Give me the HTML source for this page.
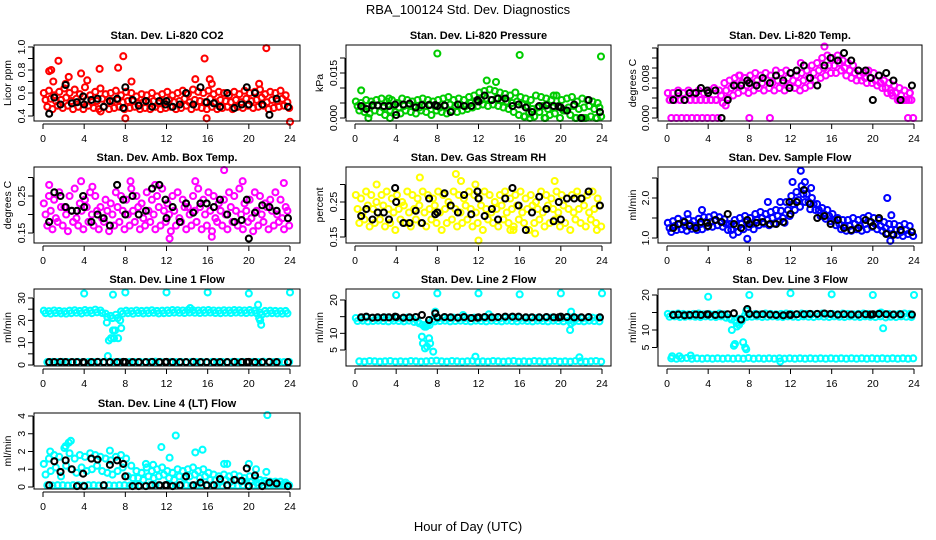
<!DOCTYPE html>
<html><head><meta charset="utf-8"><style>
html,body{margin:0;padding:0;background:#fff;}
svg{display:block;font-family:"Liberation Sans",sans-serif;}
</style></head><body>
<svg id="chart" width="936" height="540" viewBox="0 0 936 540">
<text x="468" y="14" text-anchor="middle" font-size="13">RBA_100124  Std. Dev. Diagnostics</text>
<text x="468" y="531" text-anchor="middle" font-size="13">Hour of Day (UTC)</text>
</svg>
<script>
const HOURS=[0.25,0.75,1.25,1.75,2.25,2.75,3.25,3.75,4.25,4.75,5.25,5.75,6.25,6.75,7.25,7.75,8.25,8.75,9.25,9.75,10.25,10.75,11.25,11.75,12.25,12.75,13.25,13.75,14.25,14.75,15.25,15.75,16.25,16.75,17.25,17.75,18.25,18.75,19.25,19.75,20.25,20.75,21.25,21.75,22.25,22.75,23.25,23.75];
const BLACK_HOURS=[0.6,1.1,1.7,2.2,2.8,3.3,3.9,4.0,4.7,5.3,5.9,6.5,7.2,7.8,8.0,8.7,9.3,10.0,10.6,11.3,11.9,12.0,12.6,13.3,13.9,14.6,15.3,15.9,16.6,17.2,17.9,18.6,19.3,19.8,20.0,20.6,21.3,22.0,22.7,23.8];
const X_TICKS=[0,4,8,12,16,20,24];

// CO2
const co2A=[0.60,0.62,0.58,0.61,0.64,0.60,0.63,0.59,0.65,0.58,0.61,0.64,0.59,0.60,0.62,0.58,0.61,0.60,0.57,0.59,0.58,0.60,0.57,0.59,0.61,0.58,0.60,0.62,0.59,0.63,0.61,0.60,0.62,0.59,0.61,0.60,0.58,0.61,0.59,0.62,0.60,0.61,0.63,0.59,0.61,0.60,0.62,0.58];
const co2B=[0.54,0.55,0.53,0.54,0.56,0.53,0.55,0.52,0.54,0.52,0.53,0.55,0.52,0.53,0.54,0.52,0.53,0.53,0.51,0.52,0.52,0.53,0.51,0.52,0.54,0.52,0.53,0.55,0.52,0.54,0.53,0.52,0.55,0.52,0.54,0.53,0.52,0.54,0.52,0.55,0.53,0.54,0.56,0.52,0.54,0.53,0.55,0.52];
const co2C=[0.48,0.46,0.49,0.47,0.49,0.46,0.48,0.46,0.49,0.47,0.46,0.48,0.46,0.47,0.48,0.46,0.47,0.48,0.46,0.47,0.46,0.48,0.46,0.47,0.48,0.46,0.47,0.49,0.46,0.48,0.47,0.46,0.48,0.46,0.47,0.48,0.46,0.48,0.47,0.49,0.47,0.48,0.49,0.46,0.47,0.48,0.49,0.47];
const co2XH=[0.6,0.8,1.5,2.5,3.7,5.5,7.3,7.8,8.0,8.6,14.8,15.7,15.9,16.2,16.4,21.0,21.7,24.0,1.0,4.3,2.2,5.6];
const co2XV=[0.79,0.80,0.88,0.74,0.77,0.81,0.82,0.92,0.38,0.70,0.72,0.90,0.38,0.72,0.68,0.68,0.99,0.35,0.70,0.71,0.68,0.44];
const co2K=[0.42,0.56,0.50,0.67,0.51,0.52,0.57,0.50,0.54,0.55,0.48,0.53,0.55,0.47,0.65,0.54,0.49,0.53,0.48,0.53,0.50,0.53,0.48,0.50,0.60,0.50,0.65,0.52,0.51,0.48,0.60,0.47,0.50,0.65,0.50,0.60,0.50,0.41,0.55,0.48];

// Pressure
const presA=[0.0055,0.005,0.006,0.0055,0.006,0.0065,0.0055,0.006,0.005,0.0065,0.006,0.0055,0.006,0.0065,0.006,0.0055,0.006,0.0065,0.007,0.006,0.0065,0.006,0.007,0.0075,0.0085,0.009,0.0095,0.009,0.0085,0.008,0.0075,0.0085,0.007,0.0065,0.006,0.0075,0.007,0.0065,0.006,0.0075,0.006,0.0065,0.007,0.0055,0.0065,0.006,0.0055,0.005];
const presB=[0.004,0.0035,0.004,0.0045,0.004,0.0035,0.0045,0.004,0.0035,0.004,0.0045,0.004,0.0035,0.004,0.0045,0.004,0.0035,0.004,0.0045,0.004,0.0045,0.004,0.005,0.0055,0.006,0.0065,0.006,0.0065,0.006,0.0055,0.005,0.0055,0.0045,0.004,0.003,0.0035,0.004,0.003,0.0035,0.004,0.0025,0.0035,0.004,0.003,0.0035,0.004,0.003,0.0035];
const presC=[0.0025,0.002,0.0015,0.0025,0.002,0.001,0.0025,0.002,0.0015,0.0025,0.002,0.0015,0.0025,0.002,0.001,0.0025,0.002,0.0015,0.0025,0.002,0.0025,0.003,0.0035,0.004,0.0045,0.004,0.0045,0.004,0.0035,0.003,0.002,0.001,0.0005,0.0015,0.0005,0.002,0,0.001,0.0015,0,0.0025,0.001,0,0,0,0.0005,0,0.0005];
const presXH=[0.6,3.3,8.0,16.0,23.9,12.8,13.7,1.3,3.4,17.0,18.5,21.5,22.2,23.5,19.3,16.5];
const presXV=[0.0092,0.0065,0.0215,0.021,0.0205,0.0125,0.012,0,0,0,0,0,0,0,0.0075,0.0005];
const presK=[0.004,0.003,0.0042,0.0042,0.004,0.004,0.0045,0.001,0.0045,0.0048,0.0035,0.0043,0.0043,0.0043,0.004,0.0042,0.002,0.0045,0.004,0.004,0.006,0.0055,0.0075,0.006,0.0065,0.0065,0.004,0.0045,0.0035,0.002,0.004,0.0042,0.004,0.0038,0.0035,0.0025,0.0045,0,0.006,0.002];

// Li-820 Temp
const tempA=[0.005,0.005,0.0055,0.005,0.0055,0.005,0.0055,0.005,0.0055,0.006,0.0055,0.007,0.0075,0.008,0.0085,0.008,0.0085,0.009,0.0085,0.009,0.0085,0.0095,0.009,0.0095,0.009,0.0085,0.009,0.0095,0.0105,0.011,0.012,0.0125,0.012,0.0125,0.0115,0.011,0.0105,0.0095,0.009,0.0095,0.009,0.0085,0.0075,0.007,0.0065,0.006,0.0055,0.005];
const tempB=[0.0036,0.0036,0.0036,0.0036,0.0036,0.0036,0.0036,0.0036,0.0036,0.0036,0.0045,0.0055,0.006,0.0065,0.007,0.0065,0.007,0.0075,0.007,0.0075,0.007,0.0075,0.007,0.008,0.0075,0.007,0.0075,0.008,0.009,0.0095,0.01,0.0105,0.0105,0.011,0.01,0.0095,0.009,0.0085,0.008,0.008,0.0075,0.007,0.006,0.0055,0.005,0.0045,0.0036,0.0036];
const tempC=[0,0,0,0,0,0,0,0,0,0,0.003,0.004,0.0045,0.005,0.0055,0.005,0.0055,0.006,0.0055,0.006,0.0055,0.006,0.0055,0.0065,0.006,0.0055,0.006,0.0065,0.0075,0.008,0.0085,0.009,0.009,0.0095,0.0085,0.008,0.0075,0.0075,0.007,0.007,0.0065,0.006,0.005,0.0045,0.0036,0.0036,0,0];
const tempXH=[8.0,10.0,15.3,13.0,7.0,5.7,0.3,0.7,1.3,1.7,2.3,2.8,3.3,3.8,4.3,4.8,22.6,23.0,23.5,21.8,22.2,23.6];
const tempXV=[0,0,0.0143,0.011,0.0085,0.0025,0.0036,0.0036,0.0036,0.0036,0.0036,0.0036,0.0036,0.0036,0.0036,0.0036,0.0036,0.0036,0.0036,0.005,0.005,0.005];
const tempK=[0.0036,0.005,0.0036,0.005,0.005,0.006,0.0055,0.005,0.0055,0,0.0036,0.0065,0.0065,0.0075,0.007,0.0065,0.008,0.007,0.0085,0.0075,0.006,0.009,0.0095,0.0105,0.008,0.0065,0.0105,0.012,0.0115,0.013,0.0115,0.0095,0.0095,0.008,0.0036,0.0085,0.009,0.0075,0.0036,0.0065];

// Amb Box Temp
const ambA=[0.23,0.25,0.24,0.26,0.22,0.25,0.27,0.23,0.24,0.26,0.25,0.22,0.24,0.23,0.26,0.25,0.24,0.27,0.25,0.23,0.26,0.24,0.25,0.27,0.23,0.25,0.26,0.24,0.22,0.25,0.27,0.24,0.26,0.25,0.23,0.24,0.26,0.25,0.27,0.23,0.24,0.26,0.25,0.23,0.24,0.26,0.24,0.22];
const ambB=[0.20,0.21,0.19,0.22,0.20,0.21,0.19,0.21,0.22,0.20,0.21,0.19,0.21,0.20,0.22,0.21,0.20,0.21,0.22,0.19,0.21,0.20,0.22,0.21,0.20,0.21,0.19,0.22,0.20,0.21,0.22,0.20,0.21,0.19,0.21,0.20,0.22,0.21,0.20,0.21,0.19,0.21,0.20,0.22,0.21,0.20,0.19,0.21];
const ambC=[0.17,0.16,0.18,0.17,0.155,0.18,0.17,0.16,0.18,0.17,0.16,0.18,0.155,0.17,0.18,0.16,0.17,0.18,0.16,0.17,0.18,0.16,0.17,0.18,0.155,0.17,0.18,0.16,0.17,0.18,0.16,0.17,0.155,0.18,0.17,0.16,0.18,0.17,0.16,0.18,0.155,0.17,0.18,0.16,0.17,0.18,0.16,0.17];
const ambXH=[0.6,3.7,14.8,17.6,19.4,23.4,12.3,16.4,8.5,4.8,10.9];
const ambXV=[0.28,0.29,0.29,0.32,0.29,0.285,0.135,0.14,0.29,0.275,0.28];
const ambK=[0.18,0.26,0.25,0.22,0.21,0.21,0.25,0.22,0.18,0.20,0.19,0.17,0.28,0.24,0.20,0.25,0.20,0.21,0.27,0.28,0.24,0.19,0.22,0.18,0.23,0.205,0.23,0.23,0.22,0.24,0.20,0.18,0.185,0.24,0.135,0.205,0.225,0.22,0.21,0.19];

// Gas Stream RH
const rhA=[0.27,0.26,0.28,0.27,0.25,0.27,0.28,0.26,0.27,0.25,0.28,0.27,0.26,0.28,0.27,0.26,0.28,0.27,0.25,0.28,0.27,0.26,0.28,0.27,0.26,0.28,0.27,0.25,0.27,0.28,0.26,0.27,0.28,0.26,0.27,0.25,0.28,0.27,0.26,0.28,0.27,0.26,0.27,0.28,0.26,0.27,0.28,0.26];
const rhB=[0.23,0.22,0.24,0.23,0.22,0.24,0.23,0.22,0.23,0.24,0.22,0.23,0.24,0.22,0.23,0.24,0.22,0.23,0.24,0.23,0.22,0.24,0.23,0.22,0.24,0.23,0.22,0.23,0.24,0.22,0.23,0.24,0.22,0.23,0.24,0.23,0.22,0.24,0.23,0.22,0.24,0.23,0.22,0.23,0.24,0.22,0.23,0.24];
const rhC=[0.19,0.20,0.18,0.19,0.20,0.18,0.19,0.17,0.20,0.19,0.18,0.20,0.19,0.18,0.20,0.19,0.17,0.19,0.20,0.18,0.19,0.20,0.18,0.19,0.17,0.20,0.19,0.18,0.20,0.19,0.18,0.20,0.19,0.17,0.19,0.20,0.18,0.19,0.20,0.18,0.19,0.17,0.20,0.19,0.18,0.20,0.19,0.18];
const rhXH=[6.3,9.8,10.3,12.0,15.1,15.4,19.4,23.5,11.7,2.1,17.5];
const rhXV=[0.32,0.33,0.31,0.14,0.17,0.17,0.31,0.17,0.30,0.30,0.16];
const rhK=[0.21,0.23,0.20,0.22,0.22,0.20,0.29,0.25,0.19,0.19,0.225,0.19,0.26,0.215,0.22,0.275,0.24,0.22,0.27,0.215,0.28,0.26,0.21,0.23,0.20,0.26,0.29,0.24,0.17,0.22,0.265,0.23,0.195,0.25,0.20,0.26,0.26,0.26,0.28,0.24];

// Sample Flow
const sfA=[1.38,1.42,1.48,1.42,1.47,1.42,1.48,1.52,1.52,1.57,1.52,1.47,1.35,1.45,1.5,1.55,1.5,1.6,1.65,1.6,1.65,1.7,1.68,1.9,2.05,2.15,2.3,2.1,2.0,1.85,1.75,1.7,1.6,1.5,1.45,1.45,1.5,1.45,1.5,1.55,1.5,1.45,1.4,1.35,1.35,1.3,1.35,1.3];
const sfB=[1.25,1.3,1.35,1.3,1.35,1.3,1.35,1.4,1.4,1.45,1.4,1.35,1.2,1.3,1.35,1.4,1.35,1.45,1.5,1.45,1.5,1.55,1.5,1.7,1.85,1.95,2.1,1.9,1.85,1.7,1.6,1.55,1.45,1.35,1.3,1.3,1.35,1.3,1.35,1.4,1.35,1.3,1.25,1.2,1.2,1.15,1.2,1.15];
const sfC=[1.15,1.2,1.22,1.18,1.23,1.2,1.22,1.28,1.28,1.32,1.28,1.2,1.08,1.15,1.22,1.28,1.22,1.32,1.36,1.32,1.36,1.42,1.38,1.55,1.7,1.78,1.9,1.72,1.7,1.55,1.48,1.42,1.32,1.22,1.18,1.18,1.22,1.18,1.22,1.28,1.22,1.18,1.12,1.1,1.08,1.05,1.1,1.05];
const sfXH=[3.4,7.8,9.8,12.2,13.0,13.4,14.0,21.4,21.8,21.7,11.0,2.0];
const sfXV=[1.7,0.98,1.9,2.4,2.68,2.4,2.25,2.0,1.57,0.93,1.9,1.6];
const sfK=[1.25,1.35,1.4,1.3,1.25,1.4,1.38,1.3,1.45,1.4,1.6,1.35,1.25,1.45,1.35,1.38,1.4,1.35,1.35,1.4,1.9,1.6,1.9,2.2,1.85,1.5,1.55,1.35,1.45,1.25,1.2,1.25,1.45,1.4,1.3,1.5,1.1,1.08,1.2,1.15];

// Line 1 Flow
const l1A=[24.3,24.1,24.4,24.2,24.0,24.3,24.5,24.2,24.6,24.3,24.8,24.4,23.0,22.0,22.5,24.0,24.3,24.1,24.4,24.2,24.3,24.5,24.2,24.3,24.4,24.6,24.5,24.4,24.6,24.5,24.4,24.5,24.6,24.4,24.3,24.5,24.4,24.6,24.5,24.4,24.6,24.3,23.5,24.2,24.3,24.2,24.1,24.2];
const l1B=[23.2,23.0,23.3,23.1,23.0,23.2,23.4,23.1,23.5,23.2,23.6,23.3,21.5,21.0,21.0,23.0,23.2,23.0,23.3,23.1,23.2,23.4,23.1,23.2,23.3,23.5,23.4,23.3,23.5,23.4,23.3,23.4,23.5,23.3,23.2,23.4,23.3,23.5,23.4,23.3,23.5,23.2,22.5,23.1,23.2,23.1,23.0,23.1];
const l1C=[1.3,1.4,1.3,1.4,1.3,1.3,1.4,1.3,1.4,1.3,1.4,1.3,1.4,1.3,1.4,1.3,1.4,1.3,1.4,1.3,1.4,1.5,1.4,1.3,1.4,1.3,1.4,1.3,1.4,1.3,1.4,1.3,1.4,1.3,1.4,1.3,1.4,1.3,1.4,1.3,1.4,1.3,1.5,1.4,1.3,1.4,1.3,1.4];
const l1XH=[4.0,6.8,8.0,12.0,16.0,20.0,24.0,6.2,6.4,6.6,6.8,7.0,6.9,7.3,7.5,7.6,6.3,20.9,21.0,21.2,21.1,14.3];
const l1XV=[32,31.5,32.5,32.5,32.5,32,32.5,19,11,12,15.5,15.5,12,12,20,16.5,4,27,21,18,20,25.5];
const l1K=[1.3,1.3,1.4,1.3,1.3,1.3,1.3,1.2,1.3,1.4,1.3,1.3,1.3,1.4,1.3,1.3,1.3,1.3,1.4,1.3,1.3,1.4,1.3,1.3,1.3,1.4,1.3,1.3,1.3,1.3,1.3,1.4,1.3,1.3,1.4,1.3,1.3,1.4,1.3,1.3];

// Line 2 Flow
const l2A=[14.6,14.5,14.7,14.6,14.5,14.6,14.7,14.5,14.6,14.4,14.7,14.5,13.5,12.5,13.0,14.2,14.5,14.6,14.5,14.7,14.6,14.5,14.6,14.7,14.6,14.5,14.7,14.6,14.5,14.6,14.7,14.5,14.6,14.5,14.7,14.6,14.5,14.6,14.7,14.6,14.5,14.7,14.3,14.6,14.5,14.6,14.7,14.6];
const l2B=[13.7,13.8,13.6,13.7,13.8,13.7,13.6,13.8,13.7,13.6,13.8,13.4,13.0,12.0,12.5,13.6,13.7,13.8,13.6,13.7,13.8,13.7,13.6,13.8,13.7,13.6,13.8,13.7,13.6,13.8,13.7,13.6,13.8,13.7,13.6,13.8,13.7,13.6,13.8,13.7,13.6,13.8,13.5,13.7,13.6,13.8,13.7,13.6];
const l2C=[1.6,1.5,1.7,1.6,1.5,1.6,1.7,1.5,1.6,1.5,1.7,1.6,1.5,1.6,1.7,1.8,1.6,1.5,1.7,1.6,1.5,1.6,1.7,1.5,1.6,1.5,1.7,1.6,1.5,1.6,1.7,1.5,1.6,1.5,1.7,1.6,1.5,1.6,1.7,1.5,1.6,1.5,1.7,1.6,1.5,1.6,1.7,1.5];
const l2XH=[4.0,8.0,12.0,16.0,20.0,24.0,6.5,6.6,6.8,7.0,7.2,7.3,7.6,7.0,6.9,7.8,20.9,21.0,21.0,11.7,21.8,10.5,13.0];
const l2XV=[21.5,22,22,21.7,22,22,9,7,5.5,6,8.5,7,4.5,12.5,12,16.5,11,13,16.5,3,2.8,15.5,15.7];
const l2K=[14.8,15.0,14.7,14.8,14.8,14.8,15.0,14.9,14.7,14.8,14.9,15.5,14.0,16.0,14.8,14.9,14.8,14.7,14.9,14.6,14.7,14.8,14.9,14.8,14.9,15.0,15.0,15.0,14.8,14.8,14.8,14.9,14.8,14.8,15.0,14.9,14.8,14.8,14.9,14.8];

// Line 3 Flow
const l3A=[14.6,14.5,14.7,14.6,14.5,14.6,14.7,14.5,14.6,14.4,14.7,14.5,13.5,12.8,13.2,14.2,14.5,14.6,14.5,14.7,14.6,14.5,14.6,14.7,14.6,14.5,14.7,14.6,14.5,14.6,14.7,14.5,14.6,14.5,14.7,14.6,14.5,14.6,14.7,14.6,14.5,14.7,14.6,14.6,14.5,14.6,14.7,14.6];
const l3B=[13.8,13.9,13.7,13.8,13.9,13.8,13.7,13.9,13.8,13.7,13.9,13.5,13.0,12.0,12.5,13.7,13.8,13.9,13.7,13.8,13.9,13.8,13.7,13.9,13.8,13.7,13.9,13.8,13.7,13.9,13.8,13.7,13.9,13.8,13.7,13.9,13.8,13.7,13.9,13.8,13.7,13.9,13.6,13.8,13.7,13.9,13.8,13.7];
const l3C=[1.9,1.8,1.9,2.0,1.8,1.9,1.8,1.9,1.8,1.9,1.8,1.9,1.8,1.9,1.8,2.0,1.8,1.9,1.8,1.9,1.8,1.9,1.8,1.9,1.8,1.9,1.8,1.9,1.8,1.9,1.8,1.9,1.8,1.9,1.8,1.9,1.8,1.9,1.8,1.9,1.8,1.9,1.8,1.9,1.8,1.9,1.8,1.9];
const l3XH=[4.0,8.0,12.0,16.0,20.0,24.0,6.3,6.5,6.6,6.8,7.0,7.2,7.4,7.6,7.7,7.7,21.0,20.8,11.0,0.5,1.2,2.3];
const l3XV=[19.5,20,20.5,20.2,20,20,10,5.5,6,11,11.5,13,6.5,5,4.5,15.5,10.5,15,1,2.5,2.5,2.7];
const l3K=[14.3,14.4,14.2,14.3,14.4,14.3,14.5,14.4,14.3,14.4,14.5,14.8,13.0,16.0,14.6,14.4,14.5,14.4,14.3,14.2,14.4,14.3,14.5,14.5,14.6,14.6,14.7,14.6,14.4,14.5,14.4,14.4,14.5,14.4,14.5,14.6,14.5,14.4,14.5,14.4];

// Line 4 Flow
const l4A=[1.3,1.6,1.8,1.7,2.2,1.9,1.6,1.8,1.7,1.9,1.8,1.7,1.6,1.5,1.7,1.8,1.6,1.2,0.9,0.8,1.1,0.9,1.0,1.1,0.9,0.8,1.0,0.9,1.0,1.1,0.9,1.0,0.8,0.7,0.6,0.7,0.6,0.7,0.6,0.5,0.6,0.5,0.4,0.35,0.3,0.3,0.3,0.25];
const l4B=[0.7,0.9,1.1,0.6,1.2,1.0,0.8,1.1,0.9,1.0,1.2,0.9,0.8,0.7,0.9,1.1,0.6,0.5,0.5,0.4,0.6,0.5,0.6,0.7,0.5,0.4,0.6,0.5,0.6,0.7,0.5,0.6,0.4,0.4,0.3,0.4,0.3,0.4,0.3,0.3,0.3,0.25,0.25,0.2,0.2,0.2,0.15,0.15];
const l4C=[0.1,0.08,0.1,0.1,0.08,0.1,0.1,0.08,0.1,0.1,0.08,0.1,0.1,0.08,0.1,0.1,0.08,0.1,0.1,0.08,0.1,0.1,0.08,0.1,0.1,0.08,0.1,0.1,0.08,0.1,0.1,0.08,0.1,0.1,0.08,0.1,0.1,0.08,0.1,0.1,0.08,0.1,0.1,0.08,0.1,0.1,0.08,0.1];
const l4XH=[0.7,2.2,2.5,2.7,6.5,11.5,12.9,12.3,14.8,15.5,17.6,17.9,20.0,20.7,21.8,21.7,10.0,10.7];
const l4XV=[2.0,2.3,2.5,2.6,2.05,2.25,2.9,1.65,1.95,2.1,1.3,1.3,1.3,1.0,4.05,0.85,1.3,1.25];
const l4K=[0.1,1.45,0.85,1.5,1.0,0.05,0.75,0.05,1.6,1.55,0.1,1.25,1.5,1.3,0.6,0.05,0.05,0.05,0.1,0.1,0.1,0.1,0.05,0.1,0.6,0.1,0.25,0.1,0.1,0.45,0.1,0.4,0.35,1.05,0.05,0.65,0.05,0.25,0.2,0.05];

// layout (pixel geometry only)
const COLS=[{x0:43,x1:290,bl:34,br:300,yl:7,tl:21},{x0:355,x1:602,bl:346,br:611,yl:319,tl:333},{x0:667,x1:914,bl:658,br:922,yl:632,tl:645}];
const ROWS=[{bt:45,bb:121},{bt:167,bb:243},{bt:289,bb:366},{bt:413,bb:489}];

const PANELS=[
 {name:'co2',title:'Stan. Dev. Li-820 CO2',ylab:'Licor ppm',col:0,row:0,v0:0.4,p0:116,v1:1.0,p1:47,ticks:[0.4,0.5,0.6,0.7,0.8,0.9,1.0],labels:['0.4','0.6','0.8','1.0'],lv:[0.4,0.6,0.8,1.0],color:'#ff0000',rows:[co2A,co2B,co2C],xh:co2XH,xv:co2XV,k:co2K},
 {name:'pressure',title:'Stan. Dev. Li-820 Pressure',ylab:'kPa',col:1,row:0,v0:0,p0:118,v1:0.015,p1:73,ticks:[0,0.005,0.01,0.015,0.02],labels:['0.000','0.015'],lv:[0,0.015],color:'#00cc00',rows:[presA,presB,presC],xh:presXH,xv:presXV,k:presK},
 {name:'li820-temp',title:'Stan. Dev. Li-820 Temp.',ylab:'degrees C',col:2,row:0,v0:0,p0:118,v1:0.008,p1:78,ticks:[0,0.002,0.004,0.006,0.008,0.01,0.012,0.014],labels:['0.000','0.008'],lv:[0,0.008],color:'#ff00ff',rows:[tempA,tempB,tempC],xh:tempXH,xv:tempXV,k:tempK},
 {name:'amb-box-temp',title:'Stan. Dev. Amb. Box Temp.',ylab:'degrees C',col:0,row:1,v0:0.15,p0:233,v1:0.25,p1:196,ticks:[0.15,0.2,0.25,0.3],labels:['0.15','0.25'],lv:[0.15,0.25],color:'#ff00ff',rows:[ambA,ambB,ambC],xh:ambXH,xv:ambXV,k:ambK},
 {name:'gas-stream-rh',title:'Stan. Dev. Gas Stream RH',ylab:'percent',col:1,row:1,v0:0.15,p0:237,v1:0.25,p1:202,ticks:[0.15,0.2,0.25,0.3],labels:['0.15','0.25'],lv:[0.15,0.25],color:'#ffff00',rows:[rhA,rhB,rhC],xh:rhXH,xv:rhXV,k:rhK},
 {name:'sample-flow',title:'Stan. Dev. Sample Flow',ylab:'ml/min',col:2,row:1,v0:1.0,p0:238,v1:2.0,p1:198,ticks:[1.0,1.5,2.0,2.5],labels:['1.0','2.0'],lv:[1.0,2.0],color:'#0000ff',rows:[sfA,sfB,sfC],xh:sfXH,xv:sfXV,k:sfK},
 {name:'line1-flow',title:'Stan. Dev. Line 1 Flow',ylab:'ml/min',col:0,row:2,v0:0,p0:365,v1:30,p1:298,ticks:[0,5,10,15,20,25,30],labels:['0','10','20','30'],lv:[0,10,20,30],color:'#00ffff',rows:[l1A,l1B,l1C],xh:l1XH,xv:l1XV,k:l1K},
 {name:'line2-flow',title:'Stan. Dev. Line 2 Flow',ylab:'ml/min',col:1,row:2,v0:5,p0:350,v1:20,p1:300,ticks:[5,10,15,20],labels:['5','10','20'],lv:[5,10,20],color:'#00ffff',rows:[l2A,l2B,l2C],xh:l2XH,xv:l2XV,k:l2K},
 {name:'line3-flow',title:'Stan. Dev. Line 3 Flow',ylab:'ml/min',col:2,row:2,v0:5,p0:347.5,v1:20,p1:295,ticks:[5,10,15,20],labels:['5','10','20'],lv:[5,10,20],color:'#00ffff',rows:[l3A,l3B,l3C],xh:l3XH,xv:l3XV,k:l3K},
 {name:'line4-flow',title:'Stan. Dev. Line 4 (LT) Flow',ylab:'ml/min',col:0,row:3,v0:0,p0:487,v1:4,p1:416,ticks:[0,1,2,3,4],labels:['0','1','2','3','4'],lv:[0,1,2,3,4],color:'#00ffff',rows:[l4A,l4B,l4C],xh:l4XH,xv:l4XV,k:l4K}
];

const NS='http://www.w3.org/2000/svg';
const svg=document.getElementById('chart');
function mk(tag,attrs,parent){const e=document.createElementNS(NS,tag);for(const k in attrs)e.setAttribute(k,attrs[k]);parent.appendChild(e);return e;}
const MR=3.0;

PANELS.forEach(p=>{
  const c=COLS[p.col], r=ROWS[p.row];
  const xs=h=>c.x0+(c.x1-c.x0)*h/24;
  const ys=v=>p.p0+(p.p1-p.p0)*(v-p.v0)/(p.v1-p.v0);
  const g=mk('g',{},svg);
  
  
  const t=mk('text',{x:(c.bl+c.br)/2,y:r.bt-6,'text-anchor':'middle','font-size':'11','font-weight':'bold'},g);
  t.textContent=p.title;
  
  
  const pts=mk('g',{fill:'none','stroke-width':'2.1'},g);
  
  
  p.rows.forEach((row,ri)=>{
    row.forEach((v,i)=>{
      const cc=mk('circle',{cx:xs(HOURS[i]+(ri-1)*0.17),cy:ys(v),r:MR,stroke:p.color},pts);
      
      
    });
  });
  p.xh.forEach((h,i)=>{
    const cc=mk('circle',{cx:xs(h),cy:ys(p.xv[i]),r:MR,stroke:p.color},pts);
    
    
  });
  p.k.forEach((v,i)=>{
    const cc=mk('circle',{cx:xs(BLACK_HOURS[i]),cy:ys(v),r:MR,stroke:'#000'},pts);
    
    
  });
  const box=mk('rect',{x:c.bl,y:r.bt,width:c.br-c.bl,height:r.bb-r.bt,fill:'none',stroke:'#000','stroke-width':'1'},g);
  
  
  const xa=mk('g',{stroke:'#000','stroke-width':'1'},g);
  
  
  mk('line',{x1:xs(0),x2:xs(24),y1:r.bb+3,y2:r.bb+3},xa);
  X_TICKS.forEach(h=>{
    mk('line',{x1:xs(h),x2:xs(h),y1:r.bb+3,y2:r.bb+8},xa);
    const tl=mk('text',{x:xs(h),y:r.bb+21,'text-anchor':'middle','font-size':'10.5',stroke:'none',fill:'#000'},xa);
    tl.textContent=String(h);
    
    
  });
  const ya=mk('g',{stroke:'#000','stroke-width':'1'},g);
  
  
  mk('line',{x1:c.bl-1,x2:c.bl-1,y1:ys(p.ticks[0]),y2:ys(p.ticks[p.ticks.length-1])},ya);
  p.ticks.forEach(v=>{mk('line',{x1:c.bl-6,x2:c.bl-1,y1:ys(v),y2:ys(v)},ya);});
  p.labels.forEach((lb,i)=>{
    const yy=ys(p.lv[i]);
    const tl=mk('text',{x:c.tl+4,y:yy,'text-anchor':'middle','font-size':'10.5',stroke:'none',fill:'#000',transform:`rotate(-90 ${c.tl+4} ${yy})`},ya);
    tl.textContent=lb;
    
    
  });
  const cy=(r.bt+r.bb)/2;
  const yt=mk('text',{x:c.yl+4,y:cy,'text-anchor':'middle','font-size':'10.5',transform:`rotate(-90 ${c.yl+4} ${cy})`},g);
  yt.textContent=p.ylab;
  
  
});
</script>
</body></html>
